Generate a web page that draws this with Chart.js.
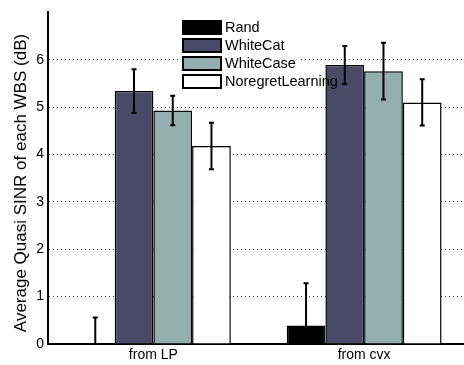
<!DOCTYPE html>
<html>
<head>
<meta charset="utf-8">
<script src="https://cdn.jsdelivr.net/npm/chart.js@4.4.1/dist/chart.umd.min.js"></script>
<style>
  html, body { margin: 0; padding: 0; background: #fff; overflow: hidden; }
  #wrap { position: relative; width: 472px; height: 365px; }
</style>
</head>
<body>
<div id="wrap"><canvas id="chart"></canvas></div>
<script>
const categories = ['from LP', 'from cvx'];
const seriesNames = ['Rand', 'WhiteCat', 'WhiteCase', 'NoregretLearning'];
const randVals = [0, 0.39];
const randErr = [0.56, 0.89];
const whiteCatVals = [5.34, 5.89];
const whiteCatErr = [0.46, 0.40];
const whiteCaseVals = [4.93, 5.76];
const whiteCaseErr = [0.31, 0.60];
const noregretVals = [4.18, 5.10];
const noregretErr = [0.49, 0.49];
const yTicks = [0, 1, 2, 3, 4, 5, 6];
const yTitle = 'Average Quasi SINR of each WBS (dB)';

const colors = ['#000001', '#4a4a68', '#95aeae', '#ffffff'];
const values = [randVals, whiteCatVals, whiteCaseVals, noregretVals];
const errors = [randErr, whiteCatErr, whiteCaseErr, noregretErr];
const FONT = '"Liberation Sans", Arial, Helvetica, sans-serif';

// error bars on top of each bar
const errorBars = {
  id: 'errorBars',
  afterDatasetsDraw(chart) {
    const { ctx, chartArea, scales } = chart;
    ctx.save();
    ctx.beginPath();
    ctx.rect(chartArea.left, chartArea.top, chartArea.right - chartArea.left, chartArea.bottom - chartArea.top);
    ctx.clip();
    ctx.strokeStyle = '#000';
    ctx.lineWidth = 2;
    chart.data.datasets.forEach((ds, i) => {
      chart.getDatasetMeta(i).data.forEach((bar, j) => {
        const v = ds.data[j];
        const e = errors[i][j];
        const yHi = scales.y.getPixelForValue(v + e);
        const yLo = scales.y.getPixelForValue(v - e);
        const x = bar.x;
        ctx.beginPath();
        ctx.moveTo(x, yHi);
        ctx.lineTo(x, yLo);
        ctx.moveTo(x - 2.5, yHi);
        ctx.lineTo(x + 2.5, yHi);
        ctx.moveTo(x - 2.5, yLo);
        ctx.lineTo(x + 2.5, yLo);
        ctx.stroke();
      });
    });
    ctx.restore();
  },
};

// matlab-like legend box and rotated y title
const overlay = {
  id: 'overlay',
  afterDraw(chart) {
    const { ctx } = chart;
    ctx.save();
    ctx.fillStyle = '#fff';
    ctx.fillRect(180, 17, 118, 75);
    ctx.font = '14.5px ' + FONT;
    ctx.textBaseline = 'middle';
    chart.data.datasets.forEach((ds, i) => {
      const y = 21 + i * 18;
      ctx.fillStyle = ds.backgroundColor;
      ctx.fillRect(183, y, 38, 13);
      ctx.strokeStyle = '#000';
      ctx.lineWidth = 2;
      ctx.strokeRect(183, y, 38, 13);
      ctx.fillStyle = '#000';
      ctx.fillText(ds.label, 225, y + 7);
    });
    ctx.translate(21, 183);
    ctx.rotate(-Math.PI / 2);
    ctx.textAlign = 'center';
    ctx.font = '17px ' + FONT;
    ctx.fillStyle = '#000';
    ctx.fillText(yTitle, 0, 0);
    ctx.restore();
  },
};

new Chart(document.getElementById('chart'), {
  type: 'bar',
  data: {
    labels: categories,
    datasets: seriesNames.map((name, i) => ({
      label: name,
      data: values[i],
      backgroundColor: colors[i],
      borderColor: '#000',
      borderWidth: 1.5,
      borderSkipped: 'start',
      barPercentage: 1,
      categoryPercentage: 0.735,
    })),
  },
  options: {
    animation: false,
    responsive: true,
    maintainAspectRatio: false,
    devicePixelRatio: 1,
    layout: { padding: { top: 11, right: 2.5, left: 0, bottom: 0 } },
    plugins: {
      legend: { display: false },
      tooltip: { enabled: false },
    },
    scales: {
      x: {
        grid: { display: false, drawTicks: false },
        border: { display: true, color: '#000', width: 2 },
        ticks: { color: '#000', font: { family: FONT, size: 14 }, padding: 3 },
        afterFit(scale) { scale.height = 21; },
      },
      y: {
        min: 0,
        max: 7,
        afterBuildTicks(scale) { scale.ticks = yTicks.map((v) => ({ value: v })); },
        grid: {
          drawTicks: false,
          color: (c) => (c.tick && c.tick.value > 0 ? '#444' : 'rgba(0,0,0,0)'),
          lineWidth: 1,
        },
        border: { display: true, color: '#000', width: 2, dash: [1, 3] },
        ticks: { color: '#000', font: { family: FONT, size: 14 }, padding: 4 },
        afterFit(scale) { scale.width = 48; },
      },
    },
  },
  plugins: [errorBars, overlay],
});
</script>
</body>
</html>
